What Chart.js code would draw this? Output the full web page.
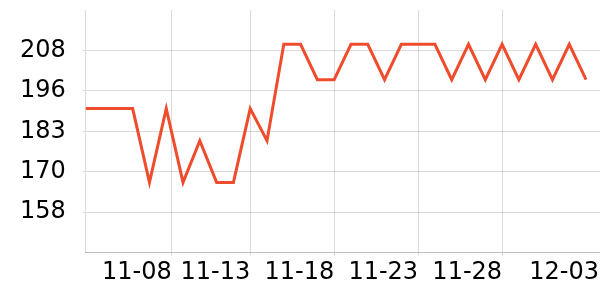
<!DOCTYPE html>
<html>
<head>
<meta charset="utf-8">
<script src="https://cdn.jsdelivr.net/npm/chart.js@4"></script>
<style>
    body { margin: 0; background: #fff; }
    #contenedor { width: 600px; height: 300px; }
</style>
</head>
<body>
<div id="contenedor"><canvas id="grafico"></canvas></div>
<script>
const dias = ['11-03', '11-04', '11-05', '11-06', '11-07', '11-08', '11-09', '11-10', '11-11', '11-12',
    '11-13', '11-14', '11-15', '11-16', '11-17', '11-18', '11-19', '11-20', '11-21', '11-22',
    '11-23', '11-24', '11-25', '11-26', '11-27', '11-28', '11-29', '11-30', '12-01', '12-02', '12-03'];
const valores = [190, 190, 190, 190, 167, 190, 167, 180, 167, 167,
    190, 180, 210, 210, 199, 199, 210, 210, 199, 210,
    210, 210, 199, 210, 199, 210, 199, 210, 199, 210, 199];

// posiciones de las marcas del eje x, en dias desde 11-03
const ticksX = [5.33, 10, 15, 20, 25, 30.77];
const etiquetasX = ['11-08', '11-13', '11-18', '11-23', '11-28', '12-03'];
const rangoX = [0.21, 30.83];

const ticksY = [157.7, 170.3, 182.9, 195.5, 208.1];
const etiquetasY = ['158', '170', '183', '196', '208'];
const rangoY = [145.1, 220.7];

const colorGrilla = 'rgba(0,0,0,0.14)';
const fuente = { family: 'DejaVu Sans', size: 24 };

const puntos = valores.map((v, i) => ({ x: i, y: v, dia: dias[i] }));

// sin relleno extra por las etiquetas de los extremos
function sinRelleno(eje) {
    eje.paddingLeft = 0;
    eje.paddingRight = 0;
    eje.paddingTop = 0;
    eje.paddingBottom = 0;
}

new Chart(document.getElementById('grafico'), {
    type: 'line',
    data: {
        datasets: [{
            data: puntos,
            borderColor: 'rgb(238, 76, 45)',
            borderWidth: 3,
            pointRadius: 0,
            tension: 0,
            fill: false,
            clip: 0
        }]
    },
    options: {
        responsive: true,
        maintainAspectRatio: false,
        animation: false,
        layout: { padding: { left: 3, top: 10, right: 0, bottom: 9.5 } },
        plugins: { legend: { display: false }, tooltip: { enabled: false } },
        scales: {
            x: {
                type: 'linear',
                min: rangoX[0],
                max: rangoX[1],
                afterBuildTicks: (eje) => { eje.ticks = ticksX.map(v => ({ value: v })); },
                afterFit: sinRelleno,
                ticks: {
                    autoSkip: false,
                    maxRotation: 0,
                    align: 'end',
                    padding: 3,
                    color: '#000',
                    font: fuente,
                    callback: (valor, i) => etiquetasX[i]
                },
                grid: {
                    tickLength: 3,
                    color: (ctx) => ctx.index === ticksX.length - 1 ? 'rgba(0,0,0,0)' : colorGrilla
                },
                border: { color: 'rgba(0,0,0,0.25)' }
            },
            y: {
                min: rangoY[0],
                max: rangoY[1],
                afterBuildTicks: (eje) => { eje.ticks = ticksY.map(v => ({ value: v })); },
                afterFit: sinRelleno,
                ticks: {
                    padding: 17,
                    color: '#000',
                    font: fuente,
                    callback: (valor, i) => etiquetasY[i]
                },
                grid: { tickLength: 3, color: colorGrilla },
                border: { color: colorGrilla }
            }
        }
    }
});
</script>
</body>
</html>
